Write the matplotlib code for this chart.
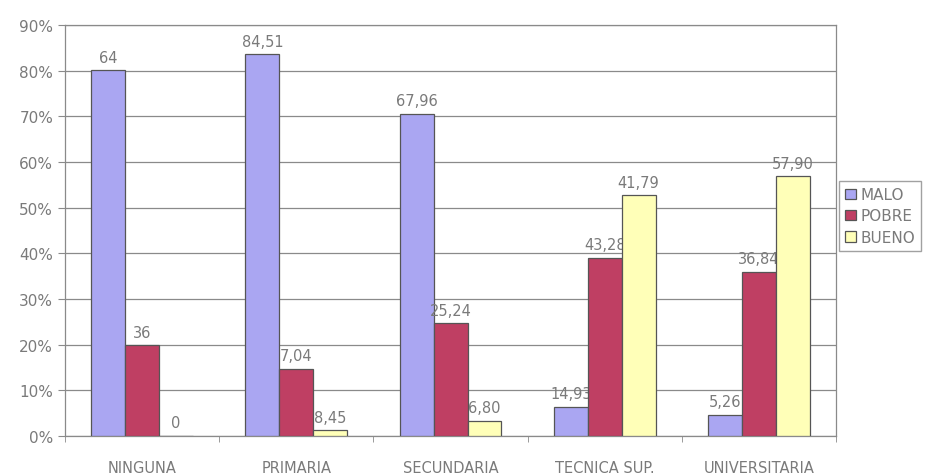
import numpy as np
import matplotlib
matplotlib.use("Agg")
import matplotlib.pyplot as plt

categories = ["NINGUNA", "PRIMARIA", "SECUNDARIA", "TECNICA SUP.", "UNIVERSITARIA"]
series = ["MALO", "POBRE", "BUENO"]
# bar heights as drawn (percent of axis)
malo = [80.1, 83.6, 70.5, 6.4, 4.6]
pobre = [19.9, 14.7, 24.7, 39.0, 35.9]
bueno = [0.0, 1.2, 3.3, 52.7, 56.9]
# printed labels above the bars
malo_lbl = ["64", "84,51", "67,96", "14,93", "5,26"]
pobre_lbl = ["36", "7,04", "25,24", "43,28", "36,84"]
bueno_lbl = ["0", "8,45", "6,80", "41,79", "57,90"]
yticks = [0, 10, 20, 30, 40, 50, 60, 70, 80, 90]

colors = ["#aaa6f2", "#bf3f63", "#ffffb8"]
text_c = "#7a7a7a"
line_c = "#8a8a8a"

plt.rcParams["font.family"] = ["DejaVu Sans"]

fig = plt.figure(figsize=(9.33, 4.77), dpi=100)
ax = fig.add_axes([0.0697, 0.0839, 0.8264, 0.8616])

x = np.arange(len(categories))
w = 0.22
for i, (vals, lbls) in enumerate(zip([malo, pobre, bueno], [malo_lbl, pobre_lbl, bueno_lbl])):
    pos = x + (i - 1) * w
    ax.bar(pos, vals, w, color=colors[i], edgecolor="#555555", linewidth=0.9,
           label=series[i], zorder=3)
    for px, v, t in zip(pos, vals, lbls):
        ax.annotate(t, (px, v), xytext=(0, 4), textcoords="offset points",
                    ha="center", va="bottom", fontsize=10.5, color=text_c)

ax.set_xlim(-0.5, len(categories) - 0.5)
ax.set_ylim(0, 90)
ax.set_yticks(yticks)
ax.set_yticklabels([f"{t}%" for t in yticks])
ax.yaxis.grid(True, color=line_c, linewidth=0.9, zorder=0)
ax.set_axisbelow(True)

ax.set_xticks(x)
ax.set_xticklabels(categories)
ax.set_xticks(np.arange(len(categories) + 1) - 0.5, minor=True)
ax.tick_params(axis="x", which="major", length=0, pad=17, labelsize=10.5, colors=text_c)
ax.tick_params(axis="x", which="minor", length=4, direction="out", color=line_c)
ax.tick_params(axis="y", length=5, color=line_c, labelsize=11, labelcolor=text_c)

for s in ax.spines.values():
    s.set_color(line_c)
    s.set_linewidth(0.9)

leg = ax.legend(loc="upper left", bbox_to_anchor=(1.004, 0.62), frameon=True,
                fancybox=False, edgecolor=line_c, fontsize=11, handlelength=0.7,
                handleheight=0.7, handletextpad=0.3, borderpad=0.4, labelspacing=0.4,
                borderaxespad=0)
for t in leg.get_texts():
    t.set_color(text_c)

fig.savefig("out.png", dpi=100)
